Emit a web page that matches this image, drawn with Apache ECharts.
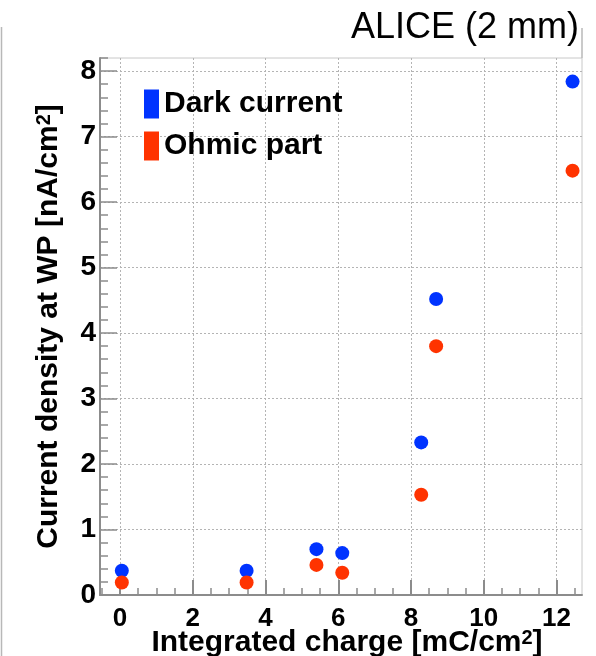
<!DOCTYPE html>
<html><head><meta charset="utf-8">
<script src="https://cdn.jsdelivr.net/npm/echarts@6/dist/echarts.min.js"></script>
<style>html,body{margin:0;padding:0;background:#fff}#c{width:596px;height:656px}</style>
</head><body><div id="c"></div>
<script>
const chargeValues = [0.05, 3.48, 5.40, 6.11, 8.28, 8.69, 12.44];
const darkCurrent = [0.37, 0.37, 0.70, 0.64, 2.33, 4.52, 7.84];
const ohmicPart = [0.19, 0.19, 0.46, 0.34, 1.53, 3.80, 6.48];
const seriesNames = ['Dark current', 'Ohmic part'];
const xMajorTicks = [0, 2, 4, 6, 8, 10, 12];
const xMinorTicks = [-0.5, 0.5, 1, 1.5, 2.5, 3, 3.5, 4.5, 5, 5.5, 6.5, 7, 7.5, 8.5, 9, 9.5, 10.5, 11, 11.5, 12.5];
const yMajorTicks = [0, 1, 2, 3, 4, 5, 6, 7, 8];
const yMinorTicks = [];
for (let i = 1; i <= 41; i++) { if (i % 5 !== 0) yMinorTicks.push(i / 5); }

const FONT = "'Liberation Sans', Arial, Helvetica, sans-serif";
const AX = '#8c8c8c';
const chart = echarts.init(document.getElementById('c'), null, {renderer: 'canvas'});
const pairs = v => chargeValues.map((x, i) => [x, v[i]]);

chart.setOption({
  animation: false,
  backgroundColor: '#fff',
  title: {
    text: 'ALICE (2 mm)', right: 17, top: 10, padding: 0,
    textStyle: {fontFamily: FONT, fontSize: 36, fontWeight: 'normal', color: '#000'}
  },
  legend: {
    data: seriesNames, orient: 'vertical', left: 144, top: 89, padding: 0,
    icon: 'rect', itemWidth: 15, itemHeight: 29, itemGap: 12,
    textStyle: {fontFamily: FONT, fontSize: 30, fontWeight: 'bold', color: '#000'}
  },
  grid: {left: 100, top: 58, width: 482, height: 537, show: true, borderColor: '#c8c8c8', borderWidth: 1,
         containLabel: false, outerBoundsMode: 'none'},
  graphic: [
    {type: 'line', shape: {x1: 1.5, y1: 27, x2: 1.5, y2: 656}, style: {stroke: '#b8b8b8', lineWidth: 1.5}},
    {type: 'line', shape: {x1: 582, y1: 28, x2: 582, y2: 58}, style: {stroke: '#b8b8b8', lineWidth: 1.5}}
  ],
  xAxis: [
    {
      type: 'value', min: -0.55, max: 12.7, position: 'bottom',
      name: 'Integrated charge [mC/cm{sup|2}]', nameLocation: 'middle', nameGap: 33, nameMoveOverlap: false,
      nameTextStyle: {fontFamily: FONT, fontSize: 30, fontWeight: 'bold', color: '#000', padding: [0, 0, 0, 12],
        rich: {sup: {fontFamily: FONT, fontSize: 20, fontWeight: 'bold', color: '#000', verticalAlign: 'top'}}},
      axisLine: {show: true, onZero: false, lineStyle: {color: AX, width: 2}},
      axisTick: {show: true, inside: true, length: 15, customValues: xMajorTicks, lineStyle: {color: AX, width: 2}},
      axisLabel: {customValues: xMajorTicks, margin: 11, fontFamily: FONT, fontSize: 26, fontWeight: 'bold', color: '#000'},
      splitLine: {show: true, lineStyle: {color: '#b4b4b4', width: 1, type: [2, 2]}}
    },
    {
      type: 'value', min: -0.55, max: 12.7, position: 'bottom',
      axisLine: {show: false, onZero: false},
      axisTick: {show: true, inside: true, length: 7, customValues: xMinorTicks, lineStyle: {color: AX, width: 1.5}},
      axisLabel: {show: false},
      splitLine: {show: false}
    }
  ],
  yAxis: [
    {
      type: 'value', min: 0, max: 8.2, position: 'left',
      name: 'Current density at WP [nA/cm{sup|2}]', nameLocation: 'middle', nameGap: 36,
      nameTextStyle: {fontFamily: FONT, fontSize: 30, fontWeight: 'bold', color: '#000', padding: 0,
        rich: {sup: {fontFamily: FONT, fontSize: 20, fontWeight: 'bold', color: '#000', verticalAlign: 'top'}}},
      axisLine: {show: true, onZero: false, lineStyle: {color: AX, width: 2}},
      axisTick: {show: true, inside: true, length: 17, customValues: yMajorTicks, lineStyle: {color: AX, width: 1.5}},
      axisLabel: {customValues: yMajorTicks, margin: 4, fontFamily: FONT, fontSize: 28, fontWeight: 'bold', color: '#000'},
      splitLine: {show: true, lineStyle: {color: '#b4b4b4', width: 1, type: [2, 2]}}
    },
    {
      type: 'value', min: 0, max: 8.2, position: 'left',
      axisLine: {show: false, onZero: false},
      axisTick: {show: true, inside: true, length: 8, customValues: yMinorTicks, lineStyle: {color: AX, width: 1.5}},
      axisLabel: {show: false},
      splitLine: {show: false}
    }
  ],
  series: [
    {name: seriesNames[0], type: 'scatter', xAxisIndex: 0, yAxisIndex: 0, symbol: 'circle', symbolSize: 14,
     itemStyle: {color: '#0033ff', opacity: 1}, data: pairs(darkCurrent)},
    {name: seriesNames[1], type: 'scatter', xAxisIndex: 0, yAxisIndex: 0, symbol: 'circle', symbolSize: 14,
     itemStyle: {color: '#ff3300', opacity: 1}, data: pairs(ohmicPart)}
  ]
});
</script></body></html>
